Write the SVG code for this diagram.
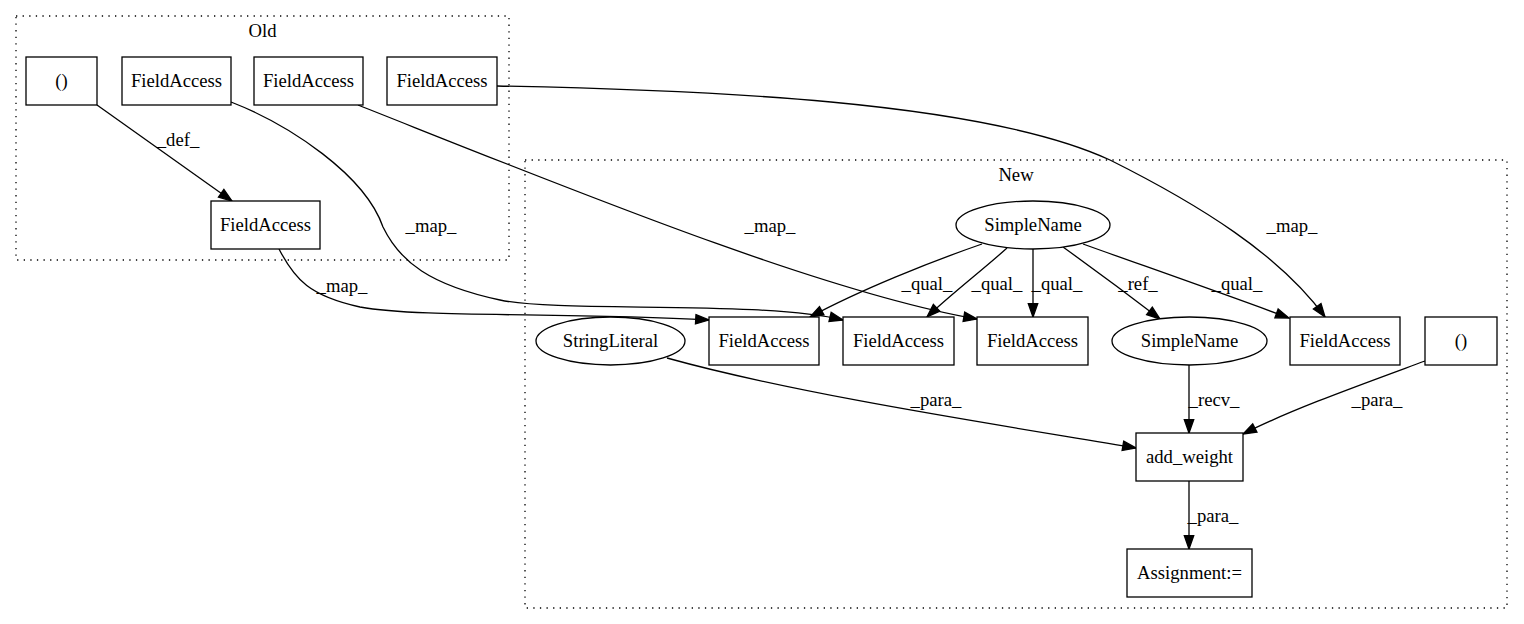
<svg xmlns="http://www.w3.org/2000/svg" width="1524" height="624" viewBox="0 0 1524 624" font-family="'Liberation Serif', 'DejaVu Serif', 'Times New Roman', serif">
<style>
text{font-family:'Liberation Serif','DejaVu Serif','Times New Roman',serif;font-size:18.67px;fill:#000;text-anchor:middle}
.cl{fill:none;stroke:#000;stroke-width:1.3;stroke-dasharray:1.3,5.3}
.nd{fill:#fff;stroke:#000;stroke-width:1.3}
.ed{fill:none;stroke:#000;stroke-width:1.3;marker-end:url(#ah)}
</style>
<defs>
<marker id="ah" markerUnits="userSpaceOnUse" markerWidth="16" markerHeight="12" refX="13.3" refY="4.7" orient="auto" overflow="visible">
<path d="M0,0 L13.3,4.7 L0,9.4 Z" fill="#000" stroke="#000" stroke-width="1.3"/>
</marker>
</defs>
<rect width="1524" height="624" fill="#fff"/>
<g id="cluster_old">
<rect class="cl" x="16" y="16" width="493" height="244"/>
<text x="262.5" y="37">Old</text>
</g>
<g id="cluster_new">
<rect class="cl" x="525" y="160" width="982" height="448"/>
<text x="1016" y="181">New</text>
</g>
<g id="edges">
<path class="ed" d="M97,105 L232,201"/>
<text x="178" y="146">_def_</text>
<path class="ed" d="M231,102 C290,125 365,175 383,227 C400,262 430,285 500,300 C560,313 760,300 843,320"/>
<text x="431" y="232">_map_</text>
<path class="ed" d="M279,249 C295,280 310,296 360,307 C420,318 560,312 709,320"/>
<text x="342" y="292">_map_</text>
<path class="ed" d="M358,105 C560,185 820,292 977,319"/>
<text x="770" y="232">_map_</text>
<path class="ed" d="M497,86 C700,90 980,100 1110,160 C1200,205 1280,255 1325,317"/>
<text x="1292" y="232">_map_</text>
<path class="ed" d="M982,244 C930,262 860,290 810,317"/>
<text x="927" y="290">_qual_</text>
<path class="ed" d="M1007,248 C985,268 950,295 927,317"/>
<text x="997" y="290">_qual_</text>
<path class="ed" d="M1033,249 L1033,317"/>
<text x="1057" y="290">_qual_</text>
<path class="ed" d="M1063,247 C1095,270 1130,296 1160,319"/>
<text x="1138" y="290">_ref_</text>
<path class="ed" d="M1083,244 C1150,268 1230,296 1289,318"/>
<text x="1237" y="290">_qual_</text>
<path class="ed" d="M667,358 C800,395 1000,425 1136,448"/>
<text x="936" y="406">_para_</text>
<path class="ed" d="M1189,365 L1189,433"/>
<text x="1214" y="406">_recv_</text>
<path class="ed" d="M1425,361 C1360,385 1290,410 1243,434"/>
<text x="1377" y="406">_para_</text>
<path class="ed" d="M1189,481 L1189,549"/>
<text x="1213" y="522">_para_</text>
</g>
<g id="old_paren"><rect class="nd" x="26" y="57" width="71" height="48"/><text x="61.5" y="86.5">()</text></g>
<g id="old_fa1"><rect class="nd" x="122" y="57" width="109" height="48"/><text x="176.5" y="86.5">FieldAccess</text></g>
<g id="old_fa2"><rect class="nd" x="254" y="57" width="109" height="48"/><text x="308.5" y="86.5">FieldAccess</text></g>
<g id="old_fa3"><rect class="nd" x="387" y="57" width="110" height="48"/><text x="442" y="86.5">FieldAccess</text></g>
<g id="old_fa4"><rect class="nd" x="211" y="201" width="109" height="48"/><text x="265.5" y="230.5">FieldAccess</text></g>
<g id="new_simplename"><ellipse class="nd" cx="1033" cy="225" rx="77" ry="24"/><text x="1033" y="230.5">SimpleName</text></g>
<g id="new_stringliteral"><ellipse class="nd" cx="610.5" cy="341" rx="74.5" ry="24"/><text x="610.5" y="346.5">StringLiteral</text></g>
<g id="new_fa1"><rect class="nd" x="709" y="317" width="110" height="48"/><text x="764" y="346.5">FieldAccess</text></g>
<g id="new_fa2"><rect class="nd" x="843" y="317" width="111" height="48"/><text x="898.5" y="346.5">FieldAccess</text></g>
<g id="new_fa3"><rect class="nd" x="977" y="317" width="111" height="48"/><text x="1032.5" y="346.5">FieldAccess</text></g>
<g id="new_simplename2"><ellipse class="nd" cx="1189.5" cy="341" rx="77.5" ry="24"/><text x="1189.5" y="346.5">SimpleName</text></g>
<g id="new_fa4"><rect class="nd" x="1290" y="317" width="110" height="48"/><text x="1345" y="346.5">FieldAccess</text></g>
<g id="new_paren"><rect class="nd" x="1425" y="317" width="72" height="48"/><text x="1461" y="346.5">()</text></g>
<g id="new_addweight"><rect class="nd" x="1136" y="433" width="107" height="48"/><text x="1189.5" y="462.5">add_weight</text></g>
<g id="new_assignment"><rect class="nd" x="1127" y="549" width="125" height="48"/><text x="1189.5" y="578.5">Assignment:=</text></g>
</svg>
